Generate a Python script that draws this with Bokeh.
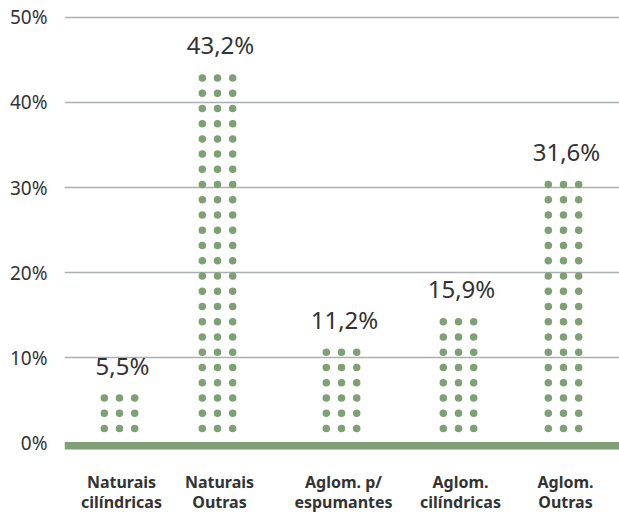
import math

from bokeh.core.properties import value
from bokeh.embed import file_html
from bokeh.models import BoxAnnotation, ColumnDataSource, FixedTicker, PrintfTickFormatter, Range1d
from bokeh.plotting import figure
from bokeh.resources import INLINE

# --- data -------------------------------------------------------------
categories = [
    "Naturais\ncilíndricas",
    "Naturais\nOutras",
    "Aglom. p/\nespumantes",
    "Aglom.\ncilíndricas",
    "Aglom.\nOutras",
]
shares = [5.5, 43.2, 11.2, 15.9, 31.6]          # % of total
y_ticks = [0, 10, 20, 30, 40, 50]

# --- layout / style ---------------------------------------------------
bar_centers = [55, 153, 277, 394, 499]           # x position of each column (frame px)
col_offsets = [-15.2, 0, 15.2]                   # three dot columns per category
first_row = 1.7                                  # centre of bottom dot row (%)
row_step = 1.79                                  # vertical distance between rows (%)
GREEN = "#7f9f74"
TEXT = "#333333"
GRID = "#aab0b0"
FONT = "Noto Sans"

# --- dots: stacked rows up to each share --------------------------------
dx, dy = [], []
tops = []
for cx, v in zip(bar_centers, shares):
    n = int(math.floor((v - 0.15 - first_row) / row_step + 1e-9)) + 1
    rows = [first_row + k * row_step for k in range(n)]
    tops.append(rows[-1])
    for ry in rows:
        for off in col_offsets:
            dx.append(cx + off)
            dy.append(ry)

dots = ColumnDataSource(dict(x=dx, y=dy))
labels = ColumnDataSource(dict(
    x=bar_centers,
    y=tops,
    text=[f"{v:.1f}".replace(".", ",") + "%" for v in shares],
))
cats = ColumnDataSource(dict(
    x=bar_centers,
    y=[0] * len(categories),
    l1=[c.split("\n")[0] for c in categories],
    l2=[c.split("\n")[1] for c in categories],
))

p = figure(
    width=619, height=514,
    x_range=Range1d(0, 555), y_range=Range1d(-8.40, 51.96),
    output_backend="svg", toolbar_location=None,
    x_axis_location=None,
    min_border_left=64, min_border_right=0, min_border_top=0, min_border_bottom=0,
)
p.outline_line_color = None
p.background_fill_color = "white"
p.border_fill_color = "white"

# grid lines at 10..50 %, the zero line is the thick green base
p.xgrid.visible = False
p.ygrid.ticker = FixedTicker(ticks=[t for t in y_ticks if t > 0])
p.ygrid.grid_line_color = GRID
p.ygrid.grid_line_width = 1.5

ax = p.yaxis[0]
ax.ticker = FixedTicker(ticks=y_ticks)
ax.formatter = PrintfTickFormatter(format="%d%%")
ax.axis_line_color = None
ax.major_tick_line_color = None
ax.minor_tick_line_color = None
ax.major_tick_out = 0
ax.major_label_standoff = 17
ax.major_label_text_font = FONT
ax.major_label_text_font_size = "19px"
ax.major_label_text_color = TEXT

p.add_layout(BoxAnnotation(top=0.1, bottom=-0.76, fill_color=GREEN, fill_alpha=1.0,
                           line_color=None, level="underlay"))

p.scatter("x", "y", source=dots, size=7.5, fill_color=GREEN, line_color=None)

p.text("x", "y", text="text", source=labels, x_offset=3, y_offset=-33,
       text_align="center", text_baseline="alphabetic",
       text_font=value(FONT), text_font_size="24px", text_color=TEXT)

p.text("x", "y", text="l1", source=cats, x_offset=2, y_offset=39.5,
       text_align="center", text_baseline="alphabetic",
       text_font=value(FONT), text_font_style="bold", text_font_size="16px", text_color=TEXT)
p.text("x", "y", text="l2", source=cats, x_offset=2, y_offset=59.5,
       text_align="center", text_baseline="alphabetic",
       text_font=value(FONT), text_font_style="bold", text_font_size="16px", text_color=TEXT)

open("out.html", "w").write(file_html(p, INLINE))
